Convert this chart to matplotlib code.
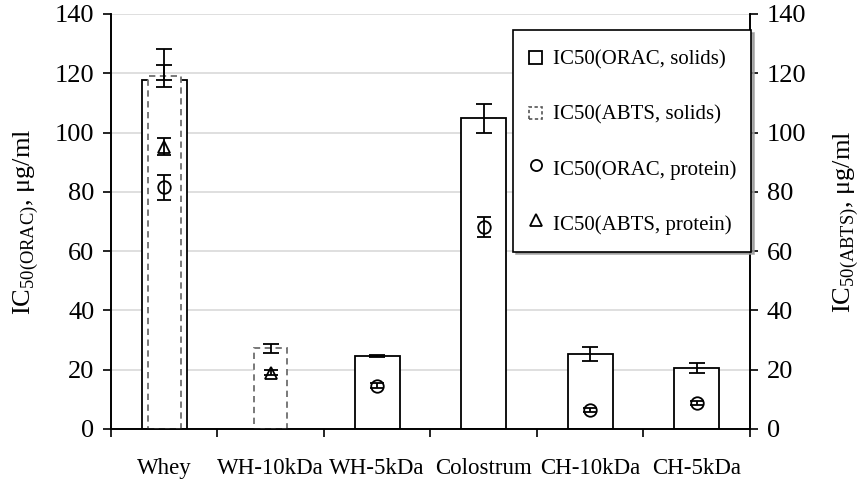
import matplotlib
matplotlib.use("Agg")
import matplotlib.pyplot as plt
from matplotlib.patches import Patch, Rectangle
from matplotlib.lines import Line2D
from matplotlib.legend_handler import HandlerPatch
import numpy as np

plt.rcParams['font.family'] = ['Liberation Serif', 'DejaVu Serif']
plt.rcParams['mathtext.fontset'] = 'custom'
plt.rcParams['mathtext.rm'] = 'Liberation Serif'

samples = ['Whey', 'WH-10kDa', 'WH-5kDa', 'Colostrum', 'CH-10kDa', 'CH-5kDa']

# IC50 values (ug/ml); None = not measured
orac_solids = [117.6, None, 24.7, 104.8, 25.2, 20.6]
orac_solids_lo = [0.0, None, 0.4, 4.9, 2.4, 1.8]
orac_solids_hi = [5.1, None, 0.4, 4.9, 2.4, 1.8]

abts_solids = [119.1, 27.2, None, None, None, None]
abts_solids_lo = [3.6, 1.5, None, None, None, None]
abts_solids_hi = [9.1, 1.5, None, None, None, None]

orac_protein = [81.5, None, 14.6, 68.2, 6.4, 8.9]
orac_protein_err = [4.2, None, 0.8, 3.4, 0.7, 0.7]

abts_protein = [95.2, 19.0, None, None, None, None]
abts_protein_err = [2.9, 0.8, None, None, None, None]


def pick(vals, *errs):
    idx = [i for i, v in enumerate(vals) if v is not None]
    return (np.array(idx), np.array([vals[i] for i in idx]),
            *[np.array([e[i] for i in idx]) for e in errs])


def square_patch(legend, orig_handle, xdescent, ydescent, width, height, fontsize):
    s = 0.62 * fontsize
    return Rectangle((-xdescent + (width - s) / 2, -ydescent + (height - s) / 2), s, s)


fig = plt.figure(figsize=(8.6, 4.82), dpi=100)
ax = fig.add_axes([0.129, 0.110, 0.743, 0.861])
ax2 = ax.twinx()

x, y, lo, hi = pick(orac_solids, orac_solids_lo, orac_solids_hi)
ax.bar(x, y, width=0.42, facecolor='white', edgecolor='black', linewidth=1.3, zorder=2)
ax.errorbar(x, y, yerr=[lo, hi], fmt='none', ecolor='black', elinewidth=1.3,
            capsize=5.5, capthick=1.3, zorder=5)

x, y, lo, hi = pick(abts_solids, abts_solids_lo, abts_solids_hi)
ax.bar(x, y, width=0.31, facecolor='white', edgecolor='#6e6e6e', linewidth=1.3,
       linestyle=(0, (3.5, 2.5)), zorder=3)
ax.errorbar(x, y, yerr=[lo, hi], fmt='none', ecolor='black', elinewidth=1.3,
            capsize=5.5, capthick=1.3, zorder=5)

x, y, e = pick(orac_protein, orac_protein_err)
ax.errorbar(x, y, yerr=e, fmt='o', ms=9, mfc='none', mec='black', mew=1.3,
            ecolor='black', elinewidth=1.3, capsize=5, capthick=1.3, zorder=6)

x, y, e = pick(abts_protein, abts_protein_err)
ax.errorbar(x, y, yerr=e, fmt='^', ms=9, mfc='none', mec='black', mew=1.3,
            ecolor='black', elinewidth=1.3, capsize=5, capthick=1.3, zorder=6)

for a in (ax, ax2):
    a.set_ylim(0, 140)
    a.set_yticks(np.arange(0, 141, 20))
    a.tick_params(axis='y', labelsize=19, direction='out', length=6, width=1.2, pad=6)
ax.set_xlim(-0.5, len(samples) - 0.5)
ax.set_xticks(np.arange(len(samples) + 1) - 0.5)
ax.set_xticklabels([])
ax.set_xticks(np.arange(len(samples)), minor=True)
ax.set_xticklabels(samples, minor=True, fontsize=16.5)
ax.tick_params(axis='x', which='major', direction='out', length=6, width=1.2)
ax.tick_params(axis='x', which='minor', length=0, pad=21)

ax.yaxis.grid(True, color='#d9d9d9', linewidth=1.2, zorder=0)
ax.set_axisbelow(True)
for a in (ax, ax2):
    a.spines['top'].set_visible(False)
    for s in ('left', 'right', 'bottom'):
        a.spines[s].set_linewidth(1.2)

ax.set_ylabel(r'IC$_{\mathrm{50(ORAC)}}$, μg/ml', fontsize=19, labelpad=10)
ax2.set_ylabel(r'IC$_{\mathrm{50(ABTS)}}$, μg/ml', fontsize=19, labelpad=18)

handles = [
    Patch(facecolor='white', edgecolor='black', linewidth=1.3),
    Patch(facecolor='white', edgecolor='#555555', linewidth=1.2, linestyle=(0, (2, 1.5))),
    Line2D([], [], linestyle='none', marker='o', ms=8, mfc='none', mec='black', mew=1.3),
    Line2D([], [], linestyle='none', marker='^', ms=9, mfc='none', mec='black', mew=1.3),
]
labels = ['IC50(ORAC, solids)', 'IC50(ABTS, solids)', 'IC50(ORAC, protein)', 'IC50(ABTS, protein)']
leg = ax2.legend(handles, labels, loc='upper left', bbox_to_anchor=(0.63, 0.962),
                 fontsize=15, frameon=True, fancybox=False,
                 shadow={'color': '#999999', 'alpha': 0.8},
                 handler_map={Patch: HandlerPatch(patch_func=square_patch)},
                 handlelength=0.75, handleheight=1.6, handletextpad=0.45,
                 labelspacing=1.37, borderpad=0.7, borderaxespad=0)
leg.get_frame().set_edgecolor('black')
leg.get_frame().set_linewidth(1.2)

fig.savefig('out.png', dpi=100)
